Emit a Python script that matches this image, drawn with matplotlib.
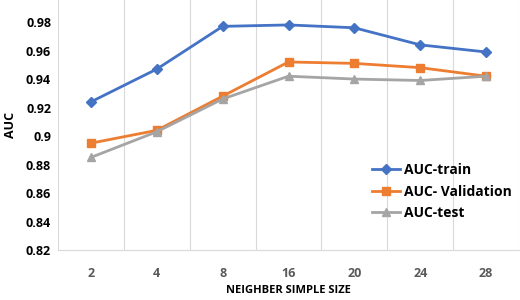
import matplotlib.pyplot as plt
import numpy as np

# Data
sizes = ['2', '4', '8', '16', '20', '24', '28']
auc_train = [0.924, 0.947, 0.977, 0.978, 0.976, 0.964, 0.959]
auc_val = [0.895, 0.904, 0.928, 0.952, 0.951, 0.948, 0.942]
auc_test = [0.885, 0.903, 0.926, 0.942, 0.940, 0.939, 0.942]
yticks = [0.82, 0.84, 0.86, 0.88, 0.9, 0.92, 0.94, 0.96, 0.98]

labels = ['AUC-train', 'AUC- Validation', 'AUC-test']
colors = ['#4472C4', '#ED7D31', '#A5A5A5']
markers = ['D', 's', '^']
msizes = [5, 6, 6]

plt.rcParams['font.family'] = ['Open Sans', 'DejaVu Sans']

fig = plt.figure(figsize=(5.2, 3.0), dpi=100)
ax = fig.add_axes([58 / 520, 50 / 300, 461 / 520, 250 / 300])

x = np.arange(len(sizes))
for ys, label, color, m, ms in zip([auc_train, auc_val, auc_test], labels, colors, markers, msizes):
    ax.plot(x, ys, color=color, marker=m, markersize=ms, linewidth=2, label=label)

ax.set_xlim(-0.5, len(sizes) - 0.5)
ax.set_ylim(0.82, 0.9955)
ax.set_xticks(x)
ax.set_xticklabels(sizes, fontsize=9, fontweight='bold', color='#595959')
ax.set_yticks(yticks)
ax.set_yticklabels([f'{v:g}' for v in yticks], fontsize=9, fontweight='bold', color='black')
ax.tick_params(length=0, pad=12)
ax.tick_params(axis='y', pad=5)

# vertical gridlines at category boundaries
for b in np.arange(-0.5, len(sizes), 1.0):
    ax.axvline(b, color='#D9D9D9', linewidth=0.8, zorder=0)

for s in ['top', 'right', 'left']:
    ax.spines[s].set_visible(False)
ax.spines['bottom'].set_color('#D9D9D9')

ax.set_xlabel('NEIGHBER SIMPLE SIZE', fontsize=8, fontweight='bold', labelpad=4)
ax.set_ylabel('AUC', fontsize=9, fontweight='bold', labelpad=6)

ax.legend(loc='upper left', bbox_to_anchor=(0.67, 0.37), frameon=False,
          prop={'size': 10, 'weight': 'bold'}, handlelength=2, handletextpad=0.3,
          labelspacing=0.55, borderaxespad=0)

fig.savefig('out.png', dpi=100)
